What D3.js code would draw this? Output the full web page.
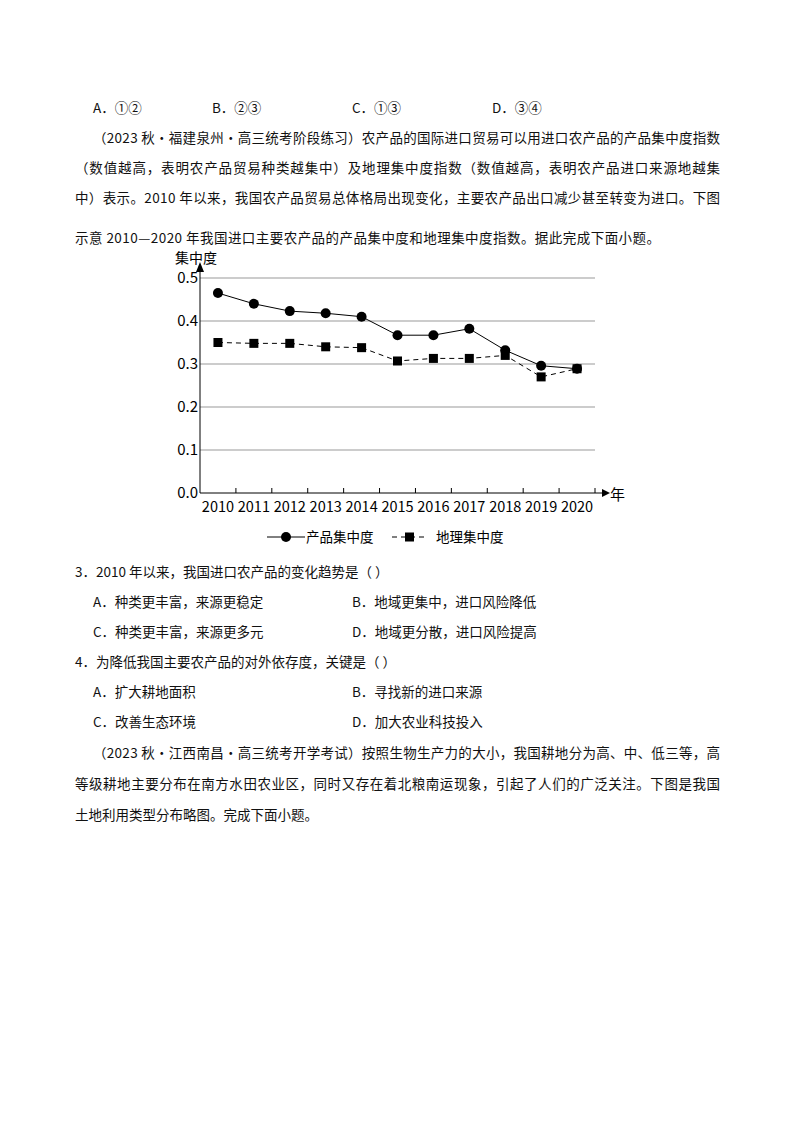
<!DOCTYPE html>
<html><head><meta charset="utf-8">
<script src="https://cdn.jsdelivr.net/npm/d3@7"></script>
<style>body{margin:0;background:#fff}text{font-family:"Noto Sans CJK SC","Noto Sans",sans-serif}</style>
</head><body><svg id="s" width="800" height="1132"></svg>
<script>
const years=["2010","2011","2012","2013","2014","2015","2016","2017","2018","2019","2020"];
const productConc=[0.465,0.44,0.423,0.418,0.41,0.367,0.367,0.382,0.332,0.296,0.289];
const geoConc=[0.35,0.348,0.348,0.34,0.338,0.307,0.313,0.313,0.32,0.27,0.289];
const yTicks=[0,0.1,0.2,0.3,0.4,0.5];
const svg=d3.select("#s");
const lines=[
 [93,113,"A．①②"],[212,113,"B．②③"],[352,113,"C．①③"],[492,113,"D．③④"],
 [93,143,"（2023 秋·福建泉州·高三统考阶段练习）农产品的国际进口贸易可以用进口农产品的产品集中度指数",627],
 [75,173,"（数值越高，表明农产品贸易种类越集中）及地理集中度指数（数值越高，表明农产品进口来源地越集",645],
 [75,203,"中）表示。2010 年以来，我国农产品贸易总体格局出现变化，主要农产品出口减少甚至转变为进口。下图",645],
 [75,243,"示意 2010—2020 年我国进口主要农产品的产品集中度和地理集中度指数。据此完成下面小题。",585],
 [75,577,"3．2010 年以来，我国进口农产品的变化趋势是（    ）"],
 [93,607,"A．种类更丰富，来源更稳定"],[352,607,"B．地域更集中，进口风险降低"],
 [93,637,"C．种类更丰富，来源更多元"],[352,637,"D．地域更分散，进口风险提高"],
 [75,667,"4．为降低我国主要农产品的对外依存度，关键是（    ）"],
 [93,697,"A．扩大耕地面积"],[352,697,"B．寻找新的进口来源"],
 [93,727,"C．改善生态环境"],[352,727,"D．加大农业科技投入"],
 [93,758,"（2023 秋·江西南昌·高三统考开学考试）按照生物生产力的大小，我国耕地分为高、中、低三等，高",627],
 [75,789,"等级耕地主要分布在南方水田农业区，同时又存在着北粮南运现象，引起了人们的广泛关注。下图是我国",645],
 [75,820,"土地利用类型分布略图。完成下面小题。"]];
svg.selectAll("text.t").data(lines).join("text").attr("class","t")
 .attr("x",d=>d[0]).attr("y",d=>d[1]).attr("font-size",13.5).attr("fill","#111")
 .attr("textLength",d=>d[3]||null).attr("lengthAdjust","spacing").text(d=>d[2]);
const x=d3.scaleBand().domain(years).range([200,595]);
const y=d3.scaleLinear().domain([0,0.5]).range([493,278]);
const g=svg.append("g");
g.selectAll("line.g").data(yTicks.slice(1)).join("line").attr("x1",200).attr("x2",595)
 .attr("y1",d=>y(d)).attr("y2",d=>y(d)).attr("stroke","#999");
g.selectAll("text.y").data(yTicks).join("text").attr("x",198).attr("y",d=>y(d)+5).attr("text-anchor","end")
 .attr("font-size",15).text(d=>d.toFixed(1));
g.append("line").attr("x1",200).attr("x2",200).attr("y1",493).attr("y2",270).attr("stroke","#000");
g.append("path").attr("d","M196,272L200,262L204,272Z");
g.append("line").attr("x1",200).attr("x2",603).attr("y1",493).attr("y2",493).attr("stroke","#000");
g.append("path").attr("d","M602,489L610,493L602,497Z");
g.append("text").attr("x",610).attr("y",500).attr("font-size",15).text("年");
g.append("text").attr("x",175).attr("y",263).attr("font-size",14).text("集中度");
g.selectAll("line.tk").data(years.slice(1)).join("line").attr("x1",d=>x(d)).attr("x2",d=>x(d))
 .attr("y1",493).attr("y2",488).attr("stroke","#000");
g.append("line").attr("x1",595).attr("x2",595).attr("y1",493).attr("y2",488).attr("stroke","#000");
g.selectAll("text.x").data(years).join("text").attr("x",d=>x(d)+x.bandwidth()/2).attr("y",512)
 .attr("text-anchor","middle").attr("font-size",14.5).text(d=>d);
const cx=(d,i)=>x(years[i])+x.bandwidth()/2;
const ln=d3.line().x((d,i)=>cx(d,i)).y(d=>y(d));
g.append("path").attr("d",ln(geoConc)).attr("fill","none").attr("stroke","#000").attr("stroke-dasharray","5,4");
g.append("path").attr("d",ln(productConc)).attr("fill","none").attr("stroke","#000");
g.selectAll("rect.m").data(geoConc).join("rect").attr("x",(d,i)=>cx(d,i)-4.5).attr("y",d=>y(d)-4.5)
 .attr("width",9).attr("height",9);
g.selectAll("circle").data(productConc).join("circle").attr("cx",cx).attr("cy",d=>y(d)).attr("r",5);
g.append("line").attr("x1",267).attr("x2",305).attr("y1",537).attr("y2",537).attr("stroke","#000");
g.append("circle").attr("cx",286).attr("cy",537).attr("r",5);
g.append("text").attr("x",306).attr("y",542).attr("font-size",13.5).text("产品集中度");
g.append("line").attr("x1",392).attr("x2",428).attr("y1",537).attr("y2",537).attr("stroke","#000").attr("stroke-dasharray","5,4");
g.append("rect").attr("x",405).attr("y",532.5).attr("width",9).attr("height",9);
g.append("text").attr("x",436).attr("y",542).attr("font-size",13.5).text("地理集中度");
</script></body></html>
